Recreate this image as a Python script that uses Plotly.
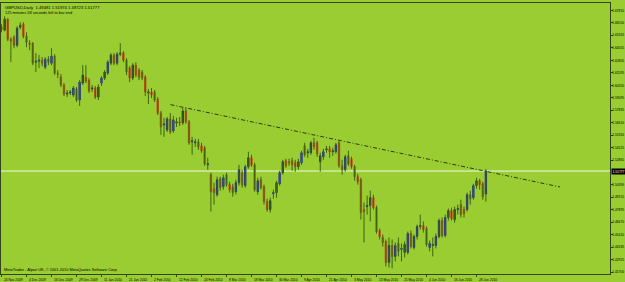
import plotly.graph_objects as go

# ---------------- data (GBPUSD daily, 24 Nov 2009 .. 1 Jul 2010) ----------------
opens = [1.6612, 1.6582, 1.6692, 1.6493, 1.6513, 1.6433, 1.6612, 1.6642, 1.6523, 1.6453,
         1.6453, 1.6264, 1.6274, 1.6284, 1.6214, 1.6294, 1.6254, 1.6324, 1.6155, 1.6115,
         1.6036, 1.5946, 1.5956, 1.5936, 1.5996, 1.5886, 1.6055, 1.6115, 1.6085, 1.5996,
         1.6006, 1.5916, 1.6055, 1.6105, 1.6155, 1.6254, 1.6334, 1.6254, 1.6344, 1.6354,
         1.6284, 1.6205, 1.6105, 1.6234, 1.6185, 1.6165, 1.6115, 1.5956, 1.5966, 1.5966,
         1.5896, 1.5757, 1.5638, 1.5588, 1.5698, 1.5578, 1.5658, 1.5668, 1.5658, 1.5777,
         1.5668, 1.5469, 1.5459, 1.5469, 1.5429, 1.5409, 1.5240, 1.5141, 1.5002, 1.4942,
         1.5101, 1.5022, 1.5141, 1.5042, 1.5022, 1.4972, 1.5061, 1.5161, 1.5032, 1.5220,
         1.5310, 1.5240, 1.4972, 1.5091, 1.5022, 1.4873, 1.4793, 1.4952, 1.4962, 1.5051,
         1.5161, 1.5280, 1.5270, 1.5280, 1.5260, 1.5220, 1.5260, 1.5429, 1.5360, 1.5360,
         1.5459, 1.5459, 1.5270, 1.5320, 1.5389, 1.5399, 1.5370, 1.5370, 1.5459, 1.5230,
         1.5191, 1.5330, 1.5300, 1.5220, 1.5121, 1.5091, 1.4793, 1.4823, 1.4833, 1.4912,
         1.4813, 1.4584, 1.4515, 1.4475, 1.4266, 1.4435, 1.4326, 1.4455, 1.4395, 1.4366,
         1.4366, 1.4554, 1.4415, 1.4525, 1.4624, 1.4634, 1.4604, 1.4415, 1.4435, 1.4435,
         1.4525, 1.4684, 1.4535, 1.4714, 1.4783, 1.4694, 1.4793, 1.4843, 1.4793, 1.4793,
         1.4942, 1.4912, 1.5032, 1.5081, 1.5051, 1.49481]
highs = [1.6642, 1.6721, 1.6702, 1.6513, 1.6533, 1.6622, 1.6662, 1.6662, 1.6562, 1.6483,
         1.6463, 1.6354, 1.6334, 1.6314, 1.6314, 1.6324, 1.6403, 1.6344, 1.6185, 1.6145,
         1.6055, 1.5986, 1.5986, 1.6026, 1.6016, 1.6085, 1.6234, 1.6234, 1.6105, 1.6036,
         1.6026, 1.6045, 1.6125, 1.6185, 1.6284, 1.6354, 1.6354, 1.6364, 1.6453, 1.6373,
         1.6304, 1.6224, 1.6254, 1.6264, 1.6205, 1.6185, 1.6135, 1.5996, 1.6006, 1.5986,
         1.5916, 1.5777, 1.5708, 1.5717, 1.5757, 1.5727, 1.5708, 1.5717, 1.5807, 1.5807,
         1.5688, 1.5519, 1.5499, 1.5499, 1.5459, 1.5429, 1.5310, 1.5161, 1.5061, 1.5121,
         1.5121, 1.5141, 1.5161, 1.5071, 1.5051, 1.5091, 1.5240, 1.5191, 1.5240, 1.5370,
         1.5340, 1.5260, 1.5111, 1.5121, 1.5042, 1.4902, 1.4912, 1.4992, 1.5081, 1.5181,
         1.5290, 1.5300, 1.5300, 1.5310, 1.5290, 1.5300, 1.5380, 1.5459, 1.5399, 1.5479,
         1.5509, 1.5479, 1.5360, 1.5399, 1.5429, 1.5429, 1.5409, 1.5459, 1.5479, 1.5290,
         1.5340, 1.5380, 1.5320, 1.5240, 1.5151, 1.5111, 1.4863, 1.4932, 1.4982, 1.4942,
         1.4833, 1.4604, 1.4545, 1.4495, 1.4515, 1.4495, 1.4465, 1.4515, 1.4455, 1.4475,
         1.4574, 1.4584, 1.4545, 1.4644, 1.4743, 1.4674, 1.4624, 1.4485, 1.4515, 1.4554,
         1.4704, 1.4714, 1.4743, 1.4803, 1.4813, 1.4823, 1.4843, 1.4892, 1.4823, 1.4962,
         1.4982, 1.5051, 1.5111, 1.5101, 1.5071, 1.51974]
lows = [1.6562, 1.6572, 1.6473, 1.6264, 1.6403, 1.6413, 1.6592, 1.6503, 1.6413, 1.6383,
        1.6234, 1.6165, 1.6205, 1.6224, 1.6195, 1.6234, 1.6234, 1.6135, 1.6105, 1.6016,
        1.5926, 1.5916, 1.5936, 1.5916, 1.5867, 1.5827, 1.6036, 1.6055, 1.5956, 1.5966,
        1.5896, 1.5886, 1.6026, 1.6085, 1.6135, 1.6234, 1.6234, 1.6234, 1.6324, 1.6264,
        1.6135, 1.6065, 1.6085, 1.6115, 1.6085, 1.6085, 1.5926, 1.5847, 1.5906, 1.5867,
        1.5737, 1.5539, 1.5519, 1.5568, 1.5548, 1.5558, 1.5618, 1.5628, 1.5638, 1.5648,
        1.5439, 1.5340, 1.5419, 1.5389, 1.5360, 1.5230, 1.5191, 1.4773, 1.4843, 1.4922,
        1.4982, 1.4992, 1.5022, 1.4962, 1.4922, 1.4942, 1.5032, 1.5012, 1.5012, 1.5201,
        1.5220, 1.4972, 1.4942, 1.4992, 1.4843, 1.4773, 1.4763, 1.4902, 1.4912, 1.5032,
        1.5141, 1.5211, 1.5230, 1.5181, 1.5171, 1.5191, 1.5240, 1.5320, 1.5310, 1.5340,
        1.5389, 1.5320, 1.5171, 1.5290, 1.5360, 1.5310, 1.5330, 1.5350, 1.5211, 1.5141,
        1.5171, 1.5230, 1.5201, 1.5081, 1.5042, 1.4694, 1.4465, 1.4743, 1.4674, 1.4793,
        1.4554, 1.4495, 1.4425, 1.4226, 1.4216, 1.4207, 1.4276, 1.4326, 1.4276, 1.4316,
        1.4346, 1.4405, 1.4395, 1.4495, 1.4594, 1.4564, 1.4425, 1.4376, 1.4326, 1.4405,
        1.4505, 1.4515, 1.4515, 1.4684, 1.4684, 1.4664, 1.4743, 1.4714, 1.4714, 1.4773,
        1.4843, 1.4892, 1.5002, 1.4992, 1.4892, 1.48723]
closes = [1.6592, 1.6692, 1.6493, 1.6473, 1.6433, 1.6602, 1.6632, 1.6523, 1.6463, 1.6443,
          1.6254, 1.6274, 1.6284, 1.6254, 1.6294, 1.6264, 1.6324, 1.6155, 1.6145, 1.6036,
          1.5946, 1.5956, 1.5966, 1.6006, 1.5886, 1.6065, 1.6135, 1.6075, 1.5976, 1.6006,
          1.5916, 1.6016, 1.6105, 1.6165, 1.6264, 1.6334, 1.6254, 1.6344, 1.6354, 1.6284,
          1.6165, 1.6105, 1.6234, 1.6135, 1.6115, 1.6105, 1.5966, 1.5966, 1.5936, 1.5886,
          1.5757, 1.5618, 1.5648, 1.5698, 1.5568, 1.5688, 1.5668, 1.5658, 1.5777, 1.5668,
          1.5459, 1.5479, 1.5469, 1.5419, 1.5380, 1.5250, 1.5250, 1.4972, 1.4962, 1.5091,
          1.5012, 1.5111, 1.5042, 1.4992, 1.4962, 1.5061, 1.5191, 1.5042, 1.5220, 1.5310,
          1.5240, 1.4992, 1.5081, 1.5012, 1.4873, 1.4793, 1.4882, 1.4962, 1.5061, 1.5161,
          1.5270, 1.5230, 1.5260, 1.5240, 1.5220, 1.5270, 1.5360, 1.5340, 1.5370, 1.5459,
          1.5419, 1.5350, 1.5330, 1.5370, 1.5399, 1.5370, 1.5380, 1.5439, 1.5230, 1.5191,
          1.5320, 1.5250, 1.5220, 1.5121, 1.5071, 1.4763, 1.4773, 1.4833, 1.4912, 1.4813,
          1.4574, 1.4525, 1.4465, 1.4266, 1.4435, 1.4326, 1.4435, 1.4376, 1.4405, 1.4445,
          1.4554, 1.4425, 1.4525, 1.4624, 1.4634, 1.4594, 1.4445, 1.4455, 1.4445, 1.4525,
          1.4684, 1.4535, 1.4714, 1.4783, 1.4704, 1.4793, 1.4803, 1.4743, 1.4753, 1.4942,
          1.4902, 1.5032, 1.5081, 1.5042, 1.4922, 1.51777]

date_labels = ["24 Nov 2009", "4 Dec 2009", "16 Dec 2009", "29 Dec 2009", "11 Jan 2010",
               "21 Jan 2010", "2 Feb 2010", "12 Feb 2010", "24 Feb 2010", "8 Mar 2010",
               "18 Mar 2010", "30 Mar 2010", "9 Apr 2010", "21 Apr 2010", "3 May 2010",
               "13 May 2010", "25 May 2010", "4 Jun 2010", "16 Jun 2010", "28 Jun 2010"]
bars_per_label = 8

price_labels = ["1.67810", "1.66550", "1.65320", "1.64055", "1.62805", "1.61595", "1.60320",
                "1.59095", "1.57835", "1.56610", "1.55350", "1.54125", "1.52865", "1.50390",
                "1.49155", "1.47895", "1.46670", "1.45410", "1.44185", "1.42925", "1.41700"]

bid_price = 1.51777
bid_label = "1.51777"

trend_x = [54.1, 178.7]
trend_y = [1.5840, 1.5019]

header_line1 = "GBPUSD,Daily  1.49481 1.51974 1.48723 1.51777"
header_line2 = "125 minutes 58 seconds left to bar end"
footer_text = "MetaTrader - Alpari UK, \u00a9 2001-2010 MetaQuotes Software Corp."

# ---------------- styling ----------------
BG = "#9ACD32"
BULL = "#1c2890"
BEAR = "#cc4a18"
WICK = "#3b6512"
AXIS = "#33441a"
FONT = "Liberation Sans, Arial, sans-serif"
FS = 3.9
FS_HEAD = 4.2
FS_TICK = 3.3

idx = list(range(len(opens)))

wick_x, wick_y = [], []
for i, h, l in zip(idx, highs, lows):
    wick_x += [i, i, None]
    wick_y += [l, h, None]

body_hi = [max(o, c) for o, c in zip(opens, closes)]
body_lo = [min(o, c) for o, c in zip(opens, closes)]

fig = go.Figure()
fig.add_trace(go.Scatter(x=wick_x, y=wick_y, mode="lines",
                         line=dict(color=WICK, width=1), hoverinfo="skip",
                         showlegend=False))
fig.add_trace(go.Candlestick(x=idx, open=opens, high=body_hi, low=body_lo, close=closes,
                             increasing=dict(fillcolor=BULL, line=dict(color=BULL, width=0.8)),
                             decreasing=dict(fillcolor=BEAR, line=dict(color=BEAR, width=0.8)),
                             whiskerwidth=0, showlegend=False))
fig.add_trace(go.Scatter(x=trend_x, y=trend_y, mode="lines",
                         line=dict(color="#2b3a12", width=1, dash="4px,2px,1px,2px"),
                         hoverinfo="skip", showlegend=False))

fig.add_shape(type="line", xref="paper", x0=0, x1=1, yref="y", y0=bid_price, y1=bid_price,
              line=dict(color="#f4f7e8", width=1), layer="below")

fig.add_annotation(xref="paper", x=1, xanchor="left", xshift=0.5, yref="y", y=bid_price,
                   yanchor="middle", text=bid_label, showarrow=False,
                   bgcolor="#000000", font=dict(color="#ffffff", size=FS_TICK, family=FONT),
                   borderpad=0.5)

fig.add_annotation(xref="paper", x=0, xanchor="left", xshift=2, yref="paper", y=1,
                   yanchor="top", yshift=-0.3, text=header_line1, showarrow=False,
                   font=dict(color="#000000", size=FS_HEAD, family=FONT))
fig.add_annotation(xref="paper", x=0, xanchor="left", xshift=2, yref="paper", y=1,
                   yanchor="top", yshift=-4.5, text=header_line2, showarrow=False,
                   font=dict(color="#000000", size=FS, family=FONT))
fig.add_annotation(xref="paper", x=0, xanchor="left", xshift=1, yref="paper", y=0,
                   yanchor="bottom", yshift=0.3, text=footer_text, showarrow=False,
                   font=dict(color="#000000", size=FS, family=FONT))

tick_positions = idx[::bars_per_label]
for pos, lab in zip(tick_positions, date_labels):
    fig.add_annotation(xref="x", x=pos, xanchor="left", xshift=0.5, yref="paper", y=0,
                       yanchor="top", yshift=-1.5, text=lab, showarrow=False,
                       font=dict(color="#000000", size=FS_TICK, family=FONT))

fig.update_layout(
    width=625, height=282,
    margin=dict(l=1, r=15, t=3, b=8, pad=0),
    paper_bgcolor=BG, plot_bgcolor=BG,
    boxgap=0.35,
    showlegend=False,
    font=dict(family=FONT, size=FS_TICK, color="#000000"),
    xaxis=dict(range=[-0.16, 194.72], showgrid=False, zeroline=False,
               showline=True, linecolor=AXIS, linewidth=1, mirror=True,
               ticks="outside", ticklen=1.5, tickcolor=AXIS, tickwidth=1,
               tickvals=tick_positions, showticklabels=False,
               rangeslider=dict(visible=False), automargin=False, fixedrange=True),
    yaxis=dict(range=[1.41505, 1.68543], side="right", showgrid=False, zeroline=False,
               showline=True, linecolor=AXIS, linewidth=1, mirror=True,
               ticks="outside", ticklen=1.5, tickcolor=AXIS, tickwidth=1,
               tickvals=[float(v) for v in price_labels], ticktext=price_labels,
               ticklabelstandoff=-1,
               tickfont=dict(size=FS_TICK, color="#000000", family=FONT),
               automargin=False, fixedrange=True),
)

fig.write_html("out.html")
